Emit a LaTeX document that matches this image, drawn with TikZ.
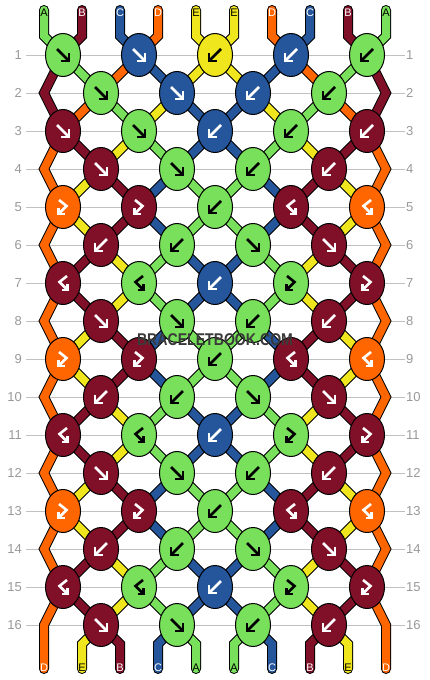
\documentclass[tikz,border=0pt]{standalone}
\usepackage{fontspec}
\setmainfont{Liberation Sans}
\newfontfamily\wmfont[FakeStretch=0.83]{Liberation Sans Bold}
\usetikzlibrary{shapes.geometric}
\pgfdeclarelayer{grid}
\pgfdeclarelayer{strands}
\pgfsetlayers{grid,strands,main}
\definecolor{cA}{HTML}{78E05A}
\definecolor{cB}{HTML}{801028}
\definecolor{cC}{HTML}{25559B}
\definecolor{cD}{HTML}{FF6600}
\definecolor{cE}{HTML}{F0E61E}
\colorlet{glA}{black}
\colorlet{glB}{white}
\colorlet{glC}{white}
\colorlet{glD}{white}
\colorlet{glE}{black}
\definecolor{rowline}{HTML}{C0C0C0}
\definecolor{rowtxt}{HTML}{999999}
\definecolor{wmgray}{HTML}{3A3A3A}
\tikzset{
  strand/.style={draw=black, line width=1pt, double distance=8pt, line join=miter, line cap=butt},
  endstrand/.style={strand, line cap=round},
  knot/.style={ellipse, draw=black, line width=1pt, minimum width=35pt, minimum height=43pt, inner sep=0pt},
  glyph/.style={line width=2.6pt, line join=miter, line cap=butt},
  rownum/.style={text=rowtxt, font=\fontsize{13}{13}\selectfont, inner sep=0pt},
  strlbl/.style={font=\fontsize{11}{11}\selectfont, inner sep=0pt},
  wm/.style={font=\wmfont\fontsize{17}{17}\selectfont, inner sep=0pt},
  rule/.style={draw=rowline, line width=1pt},
}
\newcommand\glyfwd{\draw[glyph] (-6,-6) -- (5,5); \draw[glyph] (6,-2) -- (6,6) -- (-2,6);}
\newcommand\glybwd{\draw[glyph] (6,-6) -- (-5,5); \draw[glyph] (-6,-2) -- (-6,6) -- (2,6);}
\newcommand\glyfb{\draw[glyph] (-4,-7) -- (3.5,-1) -- (-3.5,6); \draw[glyph] (-4.5,1) -- (-4.5,7) -- (1.5,7);}
\newcommand\glybf{\draw[glyph] (4,-7) -- (-3.5,-1) -- (3.5,6); \draw[glyph] (4.5,1) -- (4.5,7) -- (-1.5,7);}
\newcommand\gapodd[3]{%
  \foreach[count=\p from 2] \col in {#3}{%
    \pgfmathtruncatemacro\src{(\p+1)/2}%
    \pgfmathtruncatemacro\dst{\p/2}%
    \draw[strand,double=\col] (k#1-\src.center) -- (k#2-\dst.center);
  }}
\newcommand\gapeven[3]{%
  \foreach[count=\p from 2] \col in {#3}{%
    \pgfmathtruncatemacro\src{\p/2}%
    \pgfmathtruncatemacro\dst{(\p+1)/2}%
    \draw[strand,double=\col] (k#1-\src.center) -- (k#2-\dst.center);
  }}
\begin{document}
\begin{tikzpicture}[x=1pt,y=-1pt]
\useasboundingbox (0,0) rectangle (430,680);
\begin{pgfonlayer}{grid}
\fill[white] (0,0) rectangle (430,680);
\foreach \r in {1,...,16}{
  \pgfmathsetmacro\ry{55+38*(\r-1)}
  \coordinate (ra\r) at (26,\ry);
  \coordinate (rb\r) at (405,\ry);
  \draw[rule] (ra\r) -- (rb\r);
  \node[rownum, anchor=east] (ln\r) at (22,\ry) {\r};
  \node[rownum, anchor=west] (rn\r) at (406,\ry) {\r};
}
\end{pgfonlayer}
% knots
\foreach \r/\spec in {
 1/{A/fwd,C/fwd,E/bwd,C/bwd,A/bwd},
 2/{A/fwd,C/fwd,C/bwd,A/bwd},
 3/{B/fwd,A/fwd,C/bwd,A/bwd,B/bwd},
 4/{B/fwd,A/fwd,A/bwd,B/bwd},
 5/{D/fb,B/fb,A/bwd,B/bf,D/bf},
 6/{B/bwd,A/bwd,A/fwd,B/fwd},
 7/{B/bf,A/bf,C/bwd,A/fb,B/fb},
 8/{B/fwd,A/fwd,A/bwd,B/bwd},
 9/{D/fb,B/fb,A/bwd,B/bf,D/bf},
 10/{B/bwd,A/bwd,A/fwd,B/fwd},
 11/{B/bf,A/bf,C/bwd,A/fb,B/fb},
 12/{B/fwd,A/fwd,A/bwd,B/bwd},
 13/{D/fb,B/fb,A/bwd,B/bf,D/bf},
 14/{B/bwd,A/bwd,A/fwd,B/fwd},
 15/{B/bf,A/bf,C/bwd,A/fb,B/fb},
 16/{B/fwd,A/fwd,A/bwd,B/bwd}}{
  \pgfmathsetmacro\ky{55+38*(\r-1)}
  \pgfmathsetmacro\kx{63+38*(1-mod(\r,2))}
  \foreach[count=\i] \kc/\kt in \spec {
    \pgfmathsetmacro\xx{\kx+76*(\i-1)}
    \node[knot, fill=c\kc] (k\r-\i) at (\xx,\ky) {};
    \begin{scope}[shift={(k\r-\i.center)}, color=gl\kc]
      \csname gly\kt\endcsname
    \end{scope}
  }
}
\begin{pgfonlayer}{strands}
% top strings
\foreach \i/\col/\k in {1/cA/1,2/cB/1,3/cC/2,4/cD/2,5/cE/3,6/cE/3,7/cD/4,8/cC/4,9/cB/5,10/cA/5}{
  \pgfmathsetmacro\sx{44+38*(\i-1)}
  \coordinate (T\i) at (\sx,10);
  \coordinate (U\i) at (\sx,36);
  \draw[endstrand,double=\col] (T\i) -- (U\i) -- (k1-\k.center);
}
% edge vertices
\foreach \r in {2,4,...,16}{
  \pgfmathsetmacro\ry{55+38*(\r-1)}
  \coordinate (L\r) at (44,\ry);
  \coordinate (R\r) at (386,\ry);
}
\draw[strand,double=cB] (k1-1.center) -- (L2) -- (k3-1.center);
\draw[strand,double=cB] (k1-5.center) -- (R2) -- (k3-5.center);
\foreach \r/\n/\m in {3/4/5,5/6/7,7/8/9,9/10/11,11/12/13,13/14/15}{
  \draw[strand,double=cD] (k\r-1.center) -- (L\n) -- (k\m-1.center);
  \draw[strand,double=cD] (k\r-5.center) -- (R\n) -- (k\m-5.center);
}
% inner gaps
\gapodd{1}{2}{cA,cD,cC,cE,cE,cC,cD,cA}
\gapeven{2}{3}{cD,cA,cE,cC,cC,cE,cA,cD}
\gapodd{3}{4}{cB,cE,cA,cC,cC,cA,cE,cB}
\gapeven{4}{5}{cE,cB,cC,cA,cA,cC,cB,cE}
\gapodd{5}{6}{cE,cB,cC,cA,cA,cC,cB,cE}
\gapeven{6}{7}{cB,cE,cA,cC,cC,cA,cE,cB}
\gapodd{7}{8}{cB,cE,cA,cC,cC,cA,cE,cB}
\gapeven{8}{9}{cE,cB,cC,cA,cA,cC,cB,cE}
\gapodd{9}{10}{cE,cB,cC,cA,cA,cC,cB,cE}
\gapeven{10}{11}{cB,cE,cA,cC,cC,cA,cE,cB}
\gapodd{11}{12}{cB,cE,cA,cC,cC,cA,cE,cB}
\gapeven{12}{13}{cE,cB,cC,cA,cA,cC,cB,cE}
\gapodd{13}{14}{cE,cB,cC,cA,cA,cC,cB,cE}
\gapeven{14}{15}{cB,cE,cA,cC,cC,cA,cE,cB}
\gapodd{15}{16}{cB,cE,cA,cC,cC,cA,cE,cB}
% bottom strings
\coordinate (B1) at (44,669);
\coordinate (B10) at (386,669);
\draw[endstrand,double=cD] (B1) -- (L16) -- (k15-1.center);
\draw[endstrand,double=cD] (B10) -- (R16) -- (k15-5.center);
\foreach[count=\p from 2] \col in {cE,cB,cC,cA,cA,cC,cB,cE}{
  \pgfmathtruncatemacro\src{\p/2}
  \pgfmathsetmacro\sx{44+38*(\p-1)}
  \coordinate (V\p) at (\sx,644);
  \coordinate (B\p) at (\sx,669);
  \draw[endstrand,double=\col] (B\p) -- (V\p) -- (k16-\src.center);
}
\end{pgfonlayer}
% string labels
\foreach \i/\l in {1/A,2/B,3/C,4/D,5/E,6/E,7/D,8/C,9/B,10/A}{
  \pgfmathsetmacro\sx{44+38*(\i-1)}
  \node[strlbl, text=gl\l] (tl\i) at (\sx,12.5) {\l};
}
\foreach \i/\l in {1/D,2/E,3/B,4/C,5/A,6/A,7/C,8/B,9/E,10/D}{
  \pgfmathsetmacro\sx{44+38*(\i-1)}
  \node[strlbl, text=gl\l] (bl\i) at (\sx,668) {\l};
}
% watermark
\node[wm, text=wmgray] (wmark) at (215,339.4) {BRACELETBOOK.COM};
\end{tikzpicture}
\end{document}
